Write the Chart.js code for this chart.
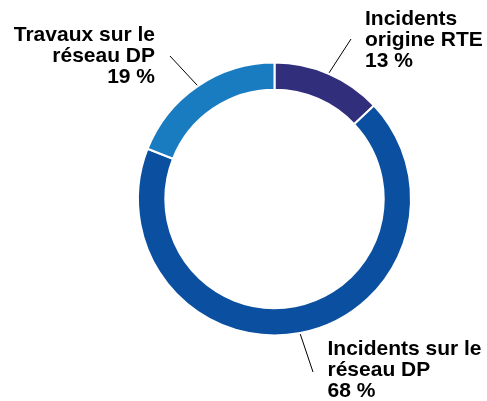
<!DOCTYPE html>
<html>
<head>
<meta charset="utf-8">
<script src="https://cdn.jsdelivr.net/npm/chart.js@4/dist/chart.umd.min.js"></script>
<style>
html,body{margin:0;padding:0;background:#fff;}
#wrap{position:relative;width:487px;height:401px;}
</style>
</head>
<body>
<div id="wrap"><canvas id="c"></canvas></div>
<script>
const categories = ["Incidents origine RTE", "Incidents sur le réseau DP", "Travaux sur le réseau DP"];
const values = [13, 68, 19];
const labelLines = [
  ["Incidents", "origine RTE", "13 %"],
  ["Incidents sur le", "réseau DP", "68 %"],
  ["Travaux sur le", "réseau DP", "19 %"]
];
const colors = ["#312e7c", "#0b50a0", "#197cc1"];

// layout for labels: text anchor, alignment, leader end point
const labelLayout = [
  {x: 365, y: 25.3, align: "left", endX: 351, endY: 39},
  {x: 327.5, y: 355.3, align: "left", endX: 313, endY: 372},
  {x: 155, y: 40.5, align: "right", endX: 170, endY: 56}
];

const labelPlugin = {
  id: "labels",
  afterDraw(chart) {
    const ctx = chart.ctx;
    const meta = chart.getDatasetMeta(0);
    ctx.save();
    meta.data.forEach((arc, i) => {
      const p = arc.getProps(["x", "y", "startAngle", "endAngle", "outerRadius"], true);
      const mid = (p.startAngle + p.endAngle) / 2;
      const r = p.outerRadius + 1;
      const sx = p.x + Math.cos(mid) * r;
      const sy = p.y + Math.sin(mid) * r;
      const L = labelLayout[i];
      ctx.strokeStyle = "#000";
      ctx.lineWidth = 1;
      ctx.beginPath();
      ctx.moveTo(sx, sy);
      ctx.lineTo(L.endX, L.endY);
      ctx.stroke();
      ctx.fillStyle = "#000";
      ctx.font = "bold 21px 'Liberation Sans', Arial, sans-serif";
      ctx.textAlign = L.align;
      ctx.textBaseline = "alphabetic";
      labelLines[i].forEach((t, k) => ctx.fillText(t, L.x, L.y + k * 21));
    });
    ctx.restore();
  }
};

new Chart(document.getElementById("c"), {
  type: "doughnut",
  data: {
    labels: categories,
    datasets: [{
      data: values,
      backgroundColor: colors,
      borderColor: "#ffffff",
      borderWidth: 2,
      hoverOffset: 0
    }]
  },
  options: {
    responsive: true,
    maintainAspectRatio: false,
    animation: false,
    cutout: "80%",
    rotation: 0,
    layout: {padding: {left: 137, right: 75, top: 61, bottom: 64}},
    plugins: {legend: {display: false}, tooltip: {enabled: false}}
  },
  plugins: [labelPlugin]
});
</script>
</body>
</html>
